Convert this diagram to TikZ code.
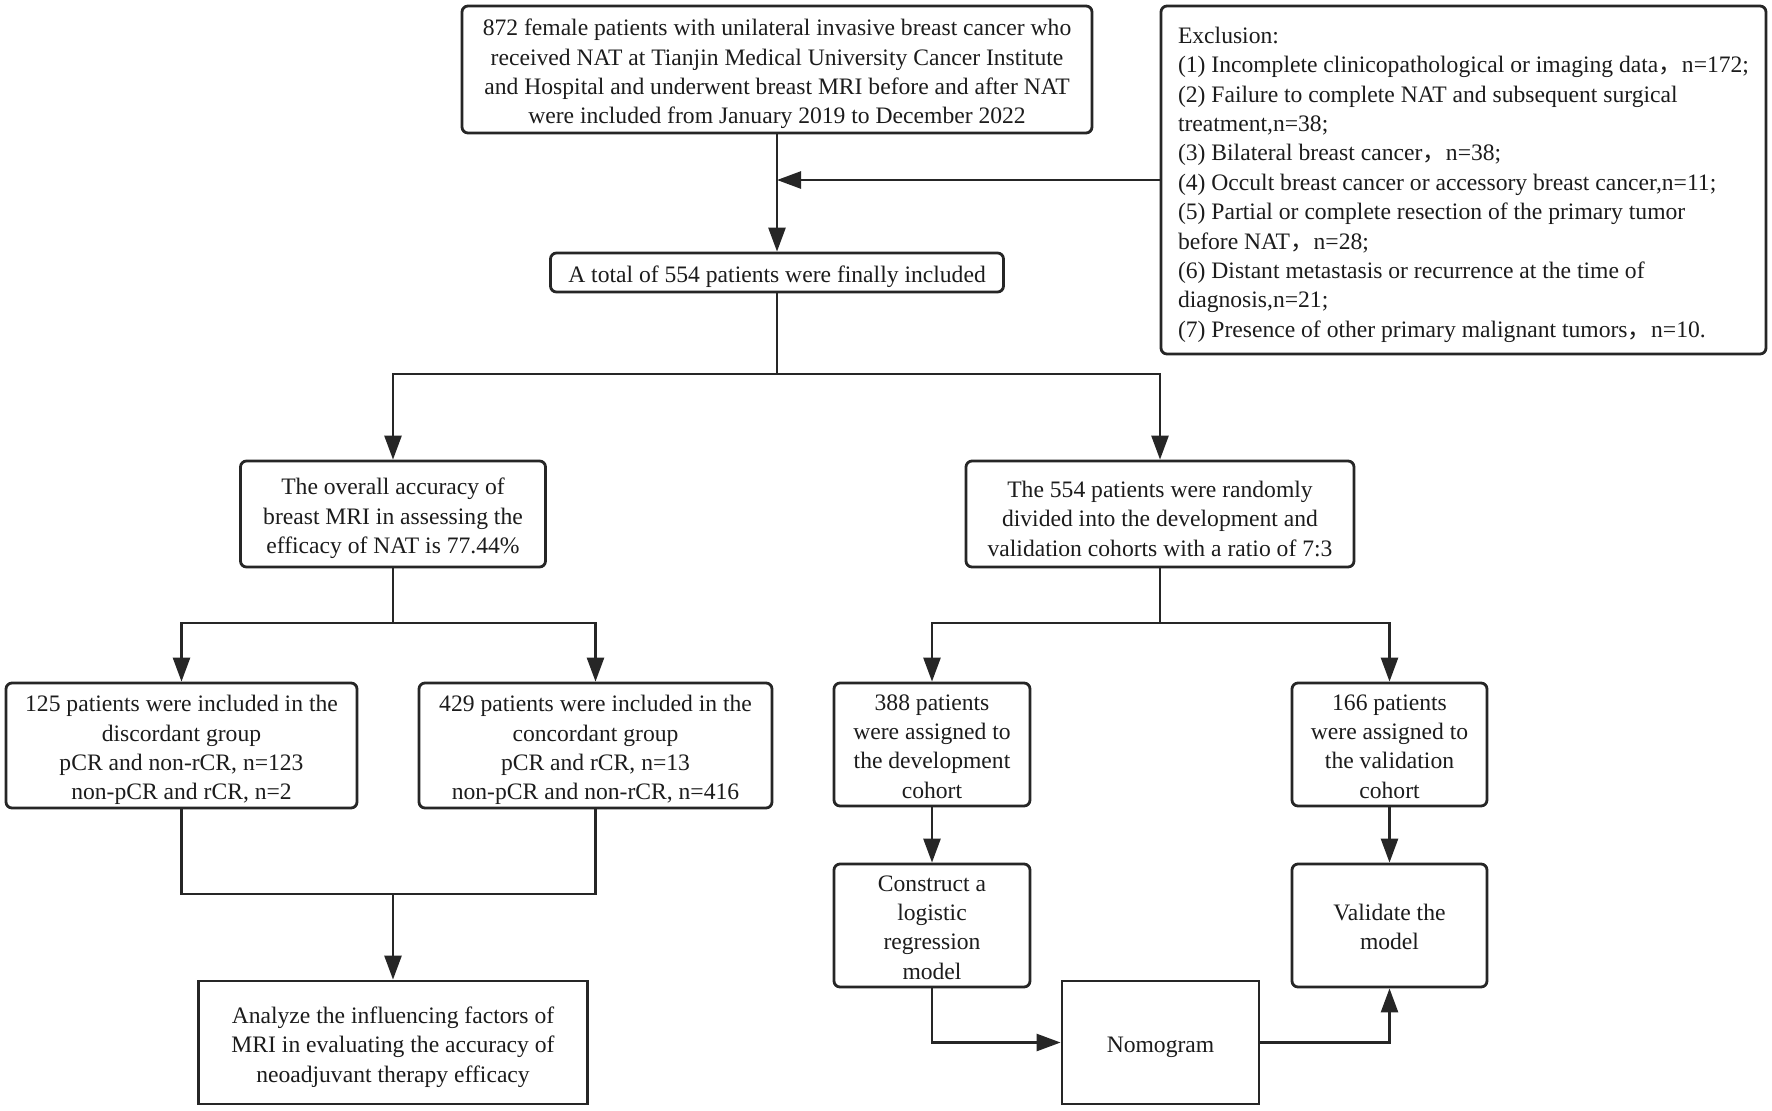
\documentclass[tikz,border=0pt]{standalone}
\usepackage{fontspec}
\setmainfont{Liberation Serif}
\newfontfamily\cjk{Noto Sans CJK SC}
\usetikzlibrary{arrows.meta}
\definecolor{ln}{HTML}{262626}
\definecolor{txt}{HTML}{1c1c1c}
\newcommand\T{\rule{0pt}{12.8pt}}
\newcommand\Ts{\rule{0pt}{9.8pt}}
\begin{document}
\begin{tikzpicture}[x=0.5pt,y=-0.5pt,
 box/.style={draw=ln, line width=1.4pt, rounded corners=3pt, align=center, inner sep=0pt, text=txt, font=\fontsize{11.8}{14.7}\selectfont},
 sq/.style={box, rounded corners=0pt},
 con/.style={draw=ln, line width=1.3pt},
 arr/.style={con, -{Triangle[length=12pt,width=8.5pt]}}]
\useasboundingbox[fill=white] (0,0) rectangle (1772,1110);

\node[box, minimum width=315pt, minimum height=63.5pt] (top) at (777,69.5)
 {\T872 female patients with unilateral invasive breast cancer who\\
  received NAT at Tianjin Medical University Cancer Institute\\
  and Hospital and underwent breast MRI before and after NAT\\
  were included from January 2019 to December 2022};

\node[box, align=left, minimum width=302.5pt, minimum height=174pt] (excl) at (1463.5,180)
 {\T Exclusion:\\
  (1) Incomplete clinicopathological or imaging data{\cjk ，}n=172;\\
  (2) Failure to complete NAT and subsequent surgical\\
  treatment,n=38;\\
  (3) Bilateral breast cancer{\cjk ，}n=38;\\
  (4) Occult breast cancer or accessory breast cancer,n=11;\\
  (5) Partial or complete resection of the primary tumor\\
  before NAT{\cjk ，}n=28;\\
  (6) Distant metastasis or recurrence at the time of\\
  diagnosis,n=21;\\
  (7) Presence of other primary malignant tumors{\cjk ，}n=10.};

\node[box, minimum width=226.5pt, minimum height=19.5pt] (total) at (777,272.5)
 {\T A total of 554 patients were finally included};

\node[box, minimum width=152.5pt, minimum height=53pt] (acc) at (393,514)
 {\T The overall accuracy of\\breast MRI in assessing the\\efficacy of NAT is 77.44\%};

\node[box, minimum width=194pt, minimum height=53pt] (rand) at (1160,514)
 {\T The 554 patients were randomly\\divided into the development and\\validation cohorts with a ratio of 7:3};

\node[box, minimum width=175.5pt, minimum height=62.5pt] (disc) at (181.5,745.5)
 {\T125 patients were included in the\\discordant group\\pCR and non-rCR, n=123\\non-pCR and rCR, n=2};

\node[box, minimum width=176.5pt, minimum height=62.5pt] (conc) at (595.5,745.5)
 {\T429 patients were included in the\\concordant group\\pCR and rCR, n=13\\non-pCR and non-rCR, n=416};

\node[sq, minimum width=194.5pt, minimum height=61.5pt] (anal) at (393,1042.5)
 {\T Analyze the influencing factors of\\MRI in evaluating the accuracy of\\neoadjuvant therapy efficacy};

\node[box, minimum width=98pt, minimum height=61.5pt] (dev) at (932,744.5)
 {\Ts388 patients\\were assigned to\\the development\\cohort};

\node[box, minimum width=97.5pt, minimum height=61.5pt] (val) at (1389.5,744.5)
 {\Ts166 patients\\were assigned to\\the validation\\cohort};

\node[box, minimum width=98pt, minimum height=61.5pt] (cons) at (932,925.5)
 {\Ts Construct a\\logistic\\regression\\model};

\node[box, minimum width=97.5pt, minimum height=61.5pt] (vali) at (1389.5,925.5)
 {\Ts Validate the\\model};

\node[sq, minimum width=98.5pt, minimum height=61.5pt] (nomo) at (1160.5,1042.5)
 {\T Nomogram};

\coordinate (s1) at (777,374);
\coordinate (s2) at (393,623);
\coordinate (s3) at (1160,623);
\coordinate (m1) at (393,894);

\draw[arr] (top.south) -- (total.north);
\draw[arr] (excl.west) -- (excl.west -| top.south);
\draw[con] (total.south) -- (s1);
\draw[arr] (s1) -| (acc.north);
\draw[arr] (s1) -| (rand.north);
\draw[con] (acc.south) -- (s2);
\draw[arr] (s2) -| (disc.north);
\draw[arr] (s2) -| (conc.north);
\draw[con] (disc.south) |- (m1) -| (conc.south);
\draw[arr] (m1) -- (anal.north);
\draw[con] (rand.south) -- (s3);
\draw[arr] (s3) -| (dev.north);
\draw[arr] (s3) -| (val.north);
\draw[arr] (dev.south) -- (cons.north);
\draw[arr] (val.south) -- (vali.north);
\draw[arr] (cons.south) |- (nomo.west);
\draw[arr] (nomo.east) -| (vali.south);
\end{tikzpicture}
\end{document}
